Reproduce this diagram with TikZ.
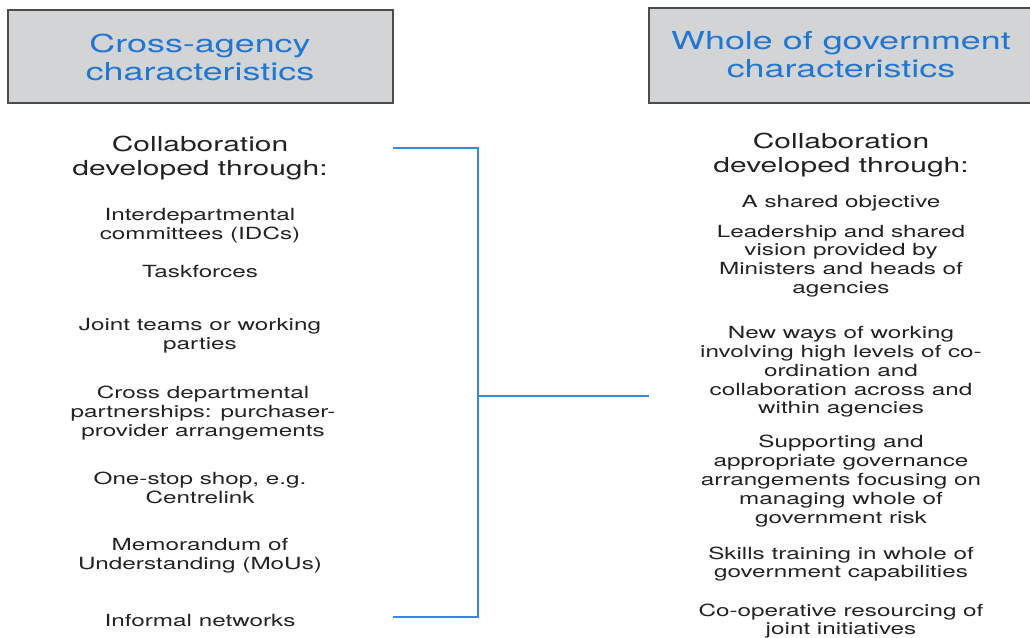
\documentclass[tikz,border=0pt]{standalone}
\usepackage{fontspec}
\setmainfont{TeX Gyre Heros}[FakeStretch=1.45]
\definecolor{titleblue}{HTML}{1F77D3}
\definecolor{linkblue}{HTML}{3A88DC}
\definecolor{boxgray}{HTML}{D3D4D6}
\definecolor{inkgray}{HTML}{222222}
\begin{document}
\begin{tikzpicture}[x=0.025cm, y=-0.025cm,
  titlebox/.style={draw=black!70, fill=boxgray, line width=0.8pt},
  titletext/.style={align=center, inner sep=0, text=titleblue, font=\fontsize{17.6}{19.9}\selectfont},
  headtext/.style={align=center, inner sep=0, text=inkgray, font=\fontsize{14.7}{16.5}\selectfont},
  itemtext/.style={align=center, inner sep=0, text=inkgray, font=\fontsize{11.9}{13.4}\selectfont},
  link/.style={draw=linkblue, line width=0.9pt}]
\useasboundingbox (0,0) rectangle (1030,637);
% title boxes
\draw[titlebox] (8,10) rectangle (393,103);
\draw[titlebox] (649,8) rectangle (1040,103);
\node[titletext] (ltitle) at (200,57) {Cross-agency\\characteristics};
\node[titletext] (rtitle) at (841,55) {Whole of government\\characteristics};
% left column
\node[headtext] (lhead) at (200,158) {Collaboration\\developed through:};
\node[itemtext] (l1) at (200,226) {Interdepartmental\\committees (IDCs)};
\node[itemtext] (l2) at (200,271) {Taskforces};
\node[itemtext] (l3) at (200,336) {Joint teams or working\\parties};
\node[itemtext] (l4) at (203,413) {Cross departmental\\partnerships: purchaser-\\provider arrangements};
\node[itemtext] (l5) at (200,488) {One-stop shop, e.g.\\Centrelink};
\node[itemtext] (l6) at (200,556) {Memorandum of\\Understanding (MoUs)};
\node[itemtext] (l7) at (200,620) {Informal networks};
% right column
\node[headtext] (rhead) at (841,155) {Collaboration\\developed through:};
\node[itemtext] (r1) at (841,203) {A shared objective};
\node[itemtext] (r2) at (841,261) {Leadership and shared\\vision provided by\\Ministers and heads of\\agencies};
\node[itemtext] (r3) at (841,372) {New ways of working\\involving high levels of co-\\ordination and\\collaboration across and\\within agencies};
\node[itemtext] (r4) at (841,481) {Supporting and\\appropriate governance\\arrangements focusing on\\managing whole of\\government risk};
\node[itemtext] (r5) at (841,564) {Skills training in whole of\\government capabilities};
\node[itemtext] (r6) at (841,621) {Co-operative resourcing of\\joint initiatives};
% bracket
\coordinate (ltop) at (393,148);
\coordinate (lbot) at (393,617);
\coordinate (jtop) at (478,148);
\coordinate (jbot) at (478,617);
\coordinate (jmid) at (478,396);
\coordinate (rmid) at (649,396);
\draw[link] (ltop) -- (jtop) -- (jbot) -- (lbot);
\draw[link] (jmid) -- (rmid);
\end{tikzpicture}
\end{document}
